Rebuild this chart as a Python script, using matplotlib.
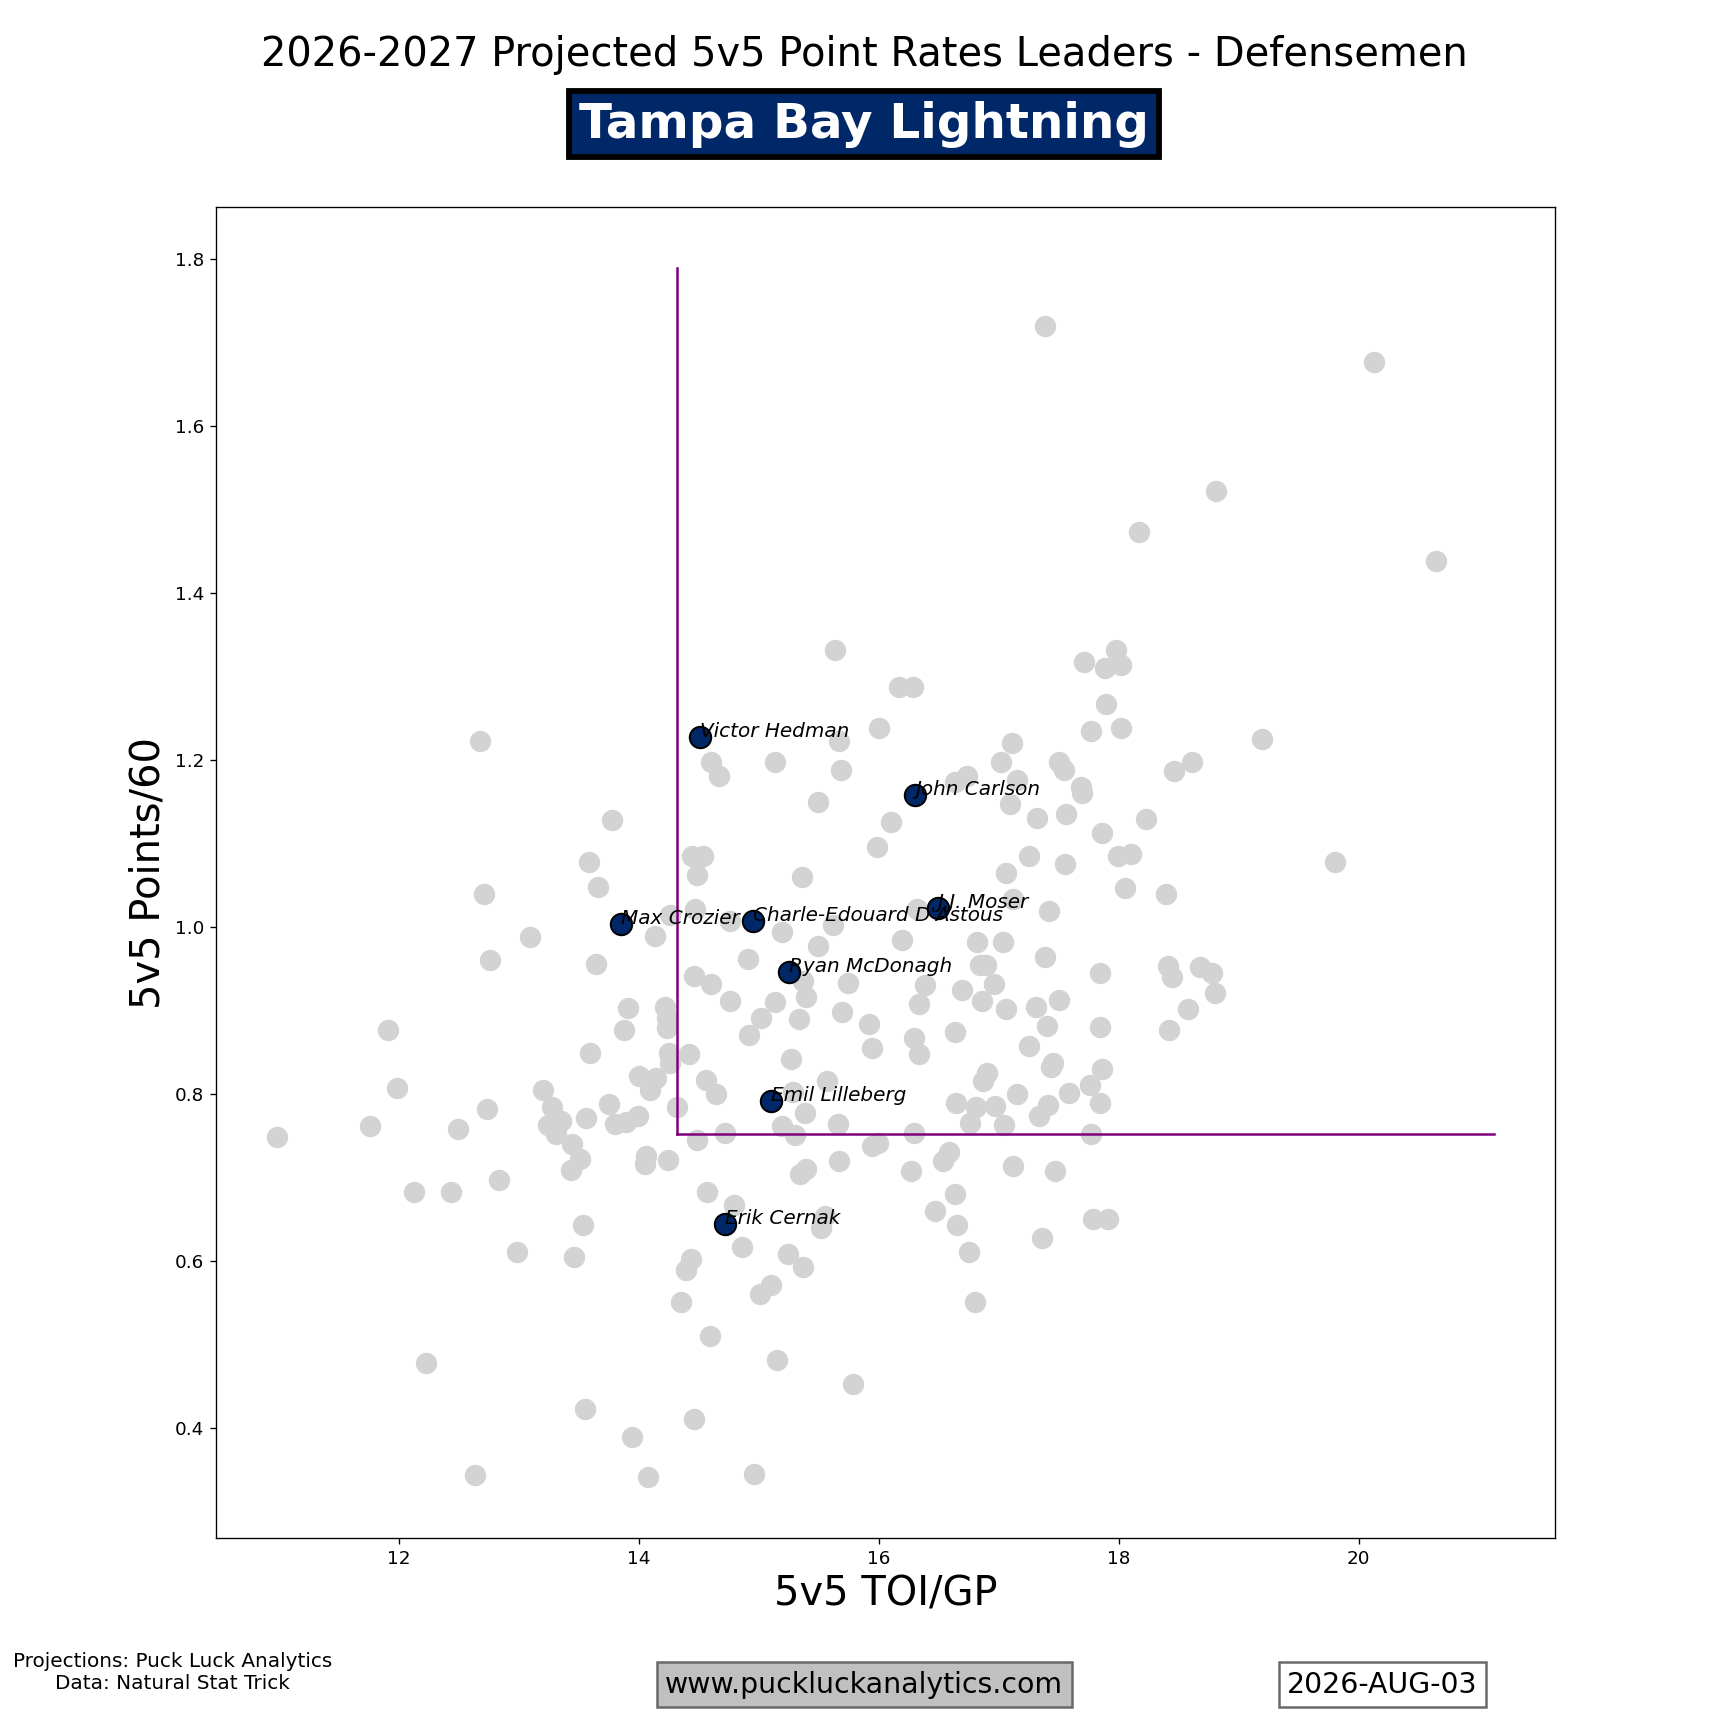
import matplotlib
matplotlib.use("Agg")
import matplotlib.pyplot as plt

# league defensemen (grey)
toi = [10.98, 11.76, 11.91, 11.98, 12.12, 12.22, 12.43, 12.49, 12.63, 12.67,
       12.71, 12.73, 12.76, 12.83, 12.98, 13.09, 13.20, 13.24, 13.27, 13.31,
       13.35, 13.43, 13.44, 13.46, 13.51, 13.53, 13.55, 13.56, 13.58, 13.59,
       13.64, 13.66, 13.75, 13.77, 13.80, 13.87, 13.89, 13.91, 13.94, 13.99,
       14.00, 14.06, 14.05, 14.07, 14.09, 14.13, 14.14, 14.22, 14.23, 14.23,
       14.24, 14.25, 14.26, 14.26, 14.32, 14.35, 14.39, 14.42, 14.43, 14.44,
       14.46, 14.46, 14.47, 14.48, 14.48, 14.53, 14.56, 14.57, 14.60, 14.60,
       14.59, 14.64, 14.67, 14.72, 14.76, 14.76, 14.79, 14.86, 14.91, 14.92,
       14.96, 15.01, 15.02, 15.10, 15.13, 15.13, 15.15, 15.19, 15.19, 15.24,
       15.27, 15.28, 15.30, 15.37, 15.33, 15.34, 15.36, 15.37, 15.39, 15.38,
       15.39, 15.49, 15.49, 15.52, 15.55, 15.57, 15.62, 15.63, 15.66, 15.67,
       15.68, 15.67, 15.69, 15.74, 15.78, 15.92, 15.94, 15.94, 15.99, 15.98,
       16.00, 16.10, 16.19, 16.27, 16.28, 16.17, 16.29, 16.29, 16.32, 16.33,
       16.33, 16.38, 16.47, 16.53, 16.58, 16.63, 16.63, 16.64, 16.65, 16.69,
       16.73, 16.63, 16.75, 16.76, 16.80, 16.82, 16.81, 16.84, 16.86, 16.87,
       16.90, 16.89, 16.96, 16.97, 17.02, 17.03, 17.06, 17.04, 17.06, 17.09,
       17.12, 17.11, 17.12, 17.15, 17.15, 17.25, 17.25, 17.31, 17.32, 17.33,
       17.36, 17.38, 17.38, 17.40, 17.41, 17.42, 17.43, 17.45, 17.47, 17.50,
       17.50, 17.54, 17.55, 17.56, 17.58, 17.68, 17.69, 17.71, 17.76, 17.77,
       17.77, 17.78, 17.84, 17.84, 17.84, 17.86, 17.86, 17.88, 17.89, 17.91,
       17.98, 17.99, 18.02, 18.02, 18.05, 18.10, 18.17, 18.23, 18.39, 18.41,
       18.42, 18.44, 18.46, 18.58, 18.61, 18.68, 18.78, 18.80, 18.81, 19.19,
       19.80, 20.13, 20.64]
pts = [0.749, 0.762, 0.877, 0.807, 0.683, 0.478, 0.683, 0.759, 0.344, 1.223,
       1.040, 0.782, 0.961, 0.697, 0.611, 0.989, 0.805, 0.763, 0.785, 0.753,
       0.768, 0.709, 0.741, 0.605, 0.723, 0.643, 0.423, 0.772, 1.078, 0.849,
       0.956, 1.048, 0.788, 1.129, 0.764, 0.877, 0.767, 0.903, 0.390, 0.774,
       0.822, 0.726, 0.717, 0.341, 0.805, 0.990, 0.820, 0.904, 0.891, 0.879,
       0.721, 0.849, 0.838, 1.015, 0.785, 0.551, 0.589, 0.848, 0.603, 1.085,
       0.942, 0.411, 1.022, 1.063, 0.745, 1.085, 0.817, 0.683, 1.198, 0.932,
       0.511, 0.800, 1.181, 0.754, 1.007, 0.912, 0.667, 0.617, 0.962, 0.871,
       0.345, 0.561, 0.891, 0.572, 1.198, 0.911, 0.482, 0.762, 0.994, 0.609,
       0.842, 0.803, 0.751, 0.936, 0.890, 0.705, 1.060, 0.593, 0.916, 0.777,
       0.710, 1.150, 0.978, 0.640, 0.654, 0.816, 1.003, 1.332, 0.764, 1.223,
       1.188, 0.720, 0.898, 0.933, 0.453, 0.884, 0.738, 0.855, 0.742, 1.096,
       1.239, 1.126, 0.985, 0.708, 1.288, 1.288, 0.867, 0.754, 1.022, 0.848,
       0.908, 0.931, 0.660, 0.720, 0.731, 0.875, 0.680, 0.789, 0.644, 0.925,
       1.181, 1.174, 0.611, 0.766, 0.551, 0.983, 0.785, 0.955, 0.912, 0.816,
       0.825, 0.955, 0.932, 0.786, 1.198, 0.983, 0.902, 0.763, 1.065, 1.148,
       1.034, 1.221, 0.714, 1.176, 0.800, 1.085, 0.858, 0.904, 1.131, 0.774,
       0.628, 1.720, 0.965, 0.882, 0.787, 1.020, 0.833, 0.838, 0.708, 1.198,
       0.913, 1.188, 1.076, 1.136, 0.801, 1.168, 1.161, 1.318, 0.811, 1.235,
       0.753, 0.650, 0.945, 0.880, 0.789, 1.113, 0.830, 1.311, 1.268, 0.651,
       1.332, 1.085, 1.314, 1.239, 1.047, 1.088, 1.474, 1.130, 1.040, 0.954,
       0.877, 0.940, 1.187, 0.902, 1.198, 0.952, 0.945, 0.921, 1.523, 1.226,
       1.078, 1.677, 1.439]

# Tampa Bay defensemen
tb_names = ["Victor Hedman", "John Carlson", "J.J. Moser", "Charle-Edouard D'Astous",
            "Max Crozier", "Ryan McDonagh", "Emil Lilleberg", "Erik Cernak"]
tb_toi = [14.51, 16.30, 16.49, 14.95, 13.85, 15.25, 15.10, 14.72]
tb_pts = [1.228, 1.159, 1.023, 1.008, 1.004, 0.946, 0.792, 0.645]

# reference lines
avg_toi = 14.32
avg_pts = 0.752
line_top = 1.79
line_right = 21.13

team = "Tampa Bay Lightning"
team_color = "#002868"

fig = plt.figure(figsize=(14.4, 14.4), dpi=120)
ax = fig.add_subplot(111)

ax.scatter(toi, pts, s=165, color="lightgray", linewidths=0, zorder=1)
ax.plot([avg_toi, avg_toi], [avg_pts, line_top], color="purple", lw=1.5, zorder=2)
ax.plot([avg_toi, line_right], [avg_pts, avg_pts], color="purple", lw=1.5, zorder=2)
ax.scatter(tb_toi, tb_pts, s=165, color=team_color, edgecolors="black",
           linewidths=1.2, zorder=3)
for name, x, y in zip(tb_names, tb_toi, tb_pts):
    ax.text(x, y, name, fontsize=12, style="italic", zorder=4)

ax.set_xlabel("5v5 TOI/GP", fontsize=24)
ax.set_ylabel("5v5 Points/60", fontsize=24)
ax.tick_params(labelsize=11)

fig.text(0.5, 0.962, "2026-2027 Projected 5v5 Point Rates Leaders - Defensemen",
         ha="center", va="baseline", fontsize=24)
fig.text(0.5, 0.9203, team, ha="center", va="baseline", fontsize=29,
         fontweight="bold", color="white",
         bbox=dict(boxstyle="square,pad=0.2", facecolor=team_color,
                   edgecolor="black", linewidth=3.5))

fig.text(0.1, 0.032, "Projections: Puck Luck Analytics\nData: Natural Stat Trick",
         ha="center", va="center", fontsize=12)
fig.text(0.5, 0.025, "www.puckluckanalytics.com", ha="center", va="center",
         fontsize=17, bbox=dict(boxstyle="square,pad=0.3", facecolor="silver",
                                edgecolor="dimgray", linewidth=1.5))
fig.text(0.8, 0.025, "2026-AUG-03", ha="center", va="center", fontsize=17,
         bbox=dict(boxstyle="square,pad=0.3", facecolor="white",
                   edgecolor="dimgray", linewidth=1.5))

fig.savefig("out.png", dpi=120)
